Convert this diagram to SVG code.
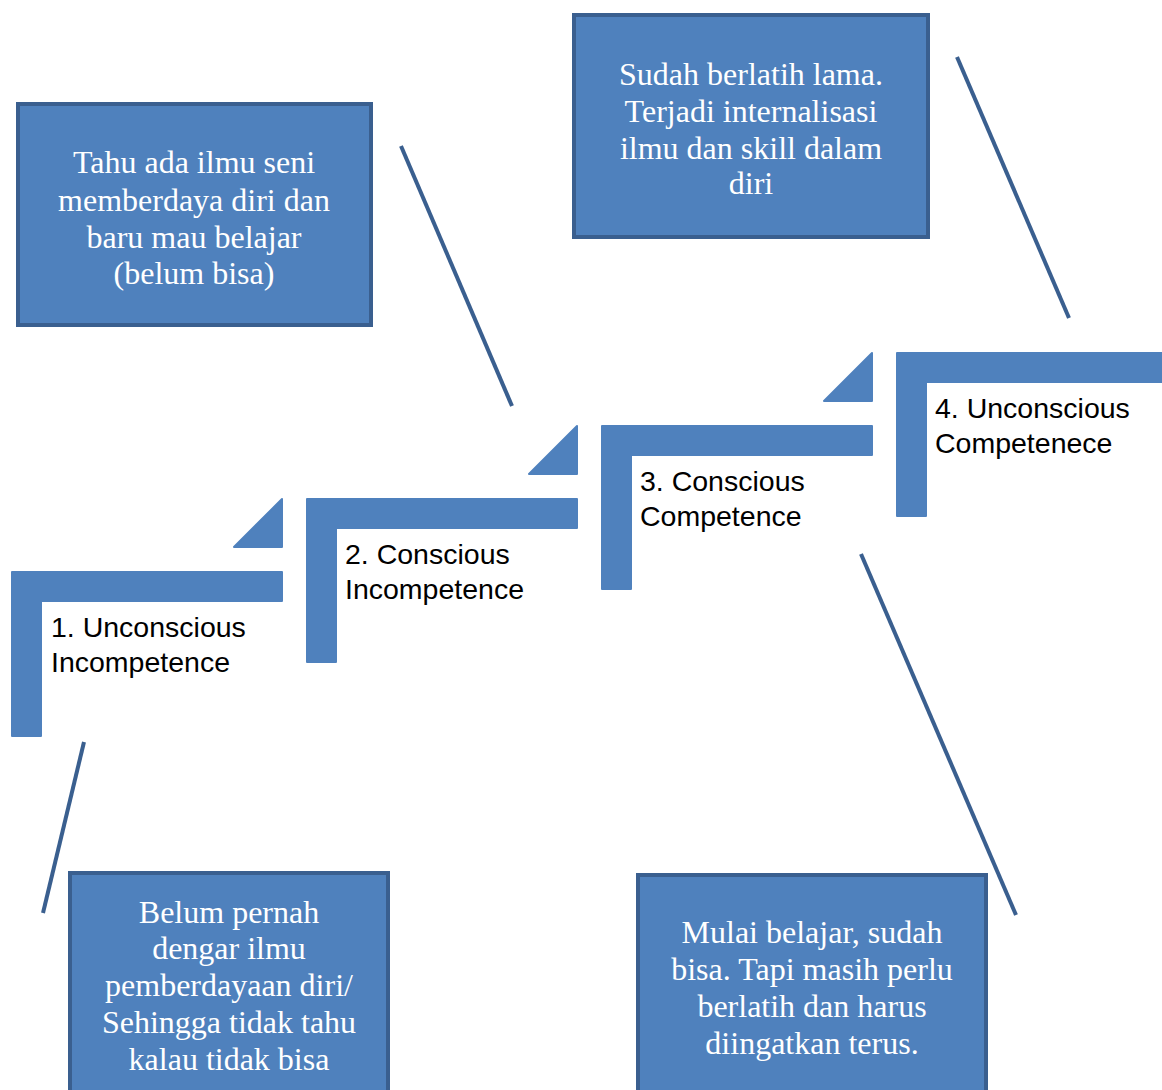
<svg xmlns="http://www.w3.org/2000/svg" width="1162" height="1090" viewBox="0 0 1162 1090">
<style>
.step{fill:#4f81bd;stroke:#4f81bd;stroke-width:2;stroke-linejoin:round}
.box{fill:#4f81bd;stroke:#3a5f8f;stroke-width:4}
.lbl{font-family:"Liberation Sans",Arial,sans-serif;font-size:28.5px;fill:#000}
.bt{font-family:"Liberation Serif","Times New Roman",serif;font-size:32px;fill:#fff;text-anchor:middle}
.conn{stroke:#3a5f8f;stroke-width:4;fill:none}
</style>
<rect width="1162" height="1090" fill="#fff"/>
<g id="connectors">
<line class="conn" x1="401" y1="146" x2="512" y2="406"/>
<line class="conn" x1="957" y1="57" x2="1069" y2="318"/>
<line class="conn" x1="861" y1="554" x2="1016" y2="915"/>
<line class="conn" x1="84" y1="742" x2="43" y2="913"/>
</g>
<g id="step1">
<path class="step" d="M12,572 H282 V601 H41 V736 H12 Z"/>
<path class="step" d="M282,499 V547 H234 Z"/>
<text class="lbl" x="51" y="637">1. Unconscious</text>
<text class="lbl" x="51" y="672">Incompetence</text>
</g>
<g id="step2">
<path class="step" d="M307,499 H577 V528 H336 V662 H307 Z"/>
<path class="step" d="M577,426 V474 H529 Z"/>
<text class="lbl" x="345" y="564">2. Conscious</text>
<text class="lbl" x="345" y="599">Incompetence</text>
</g>
<g id="step3">
<path class="step" d="M602,426 H872 V455 H631 V589 H602 Z"/>
<path class="step" d="M872,353 V401 H824 Z"/>
<text class="lbl" x="640" y="491">3. Conscious</text>
<text class="lbl" x="640" y="526">Competence</text>
</g>
<g id="step4">
<path class="step" d="M897,353 H1163 V382 H926 V516 H897 Z"/>
<text class="lbl" x="935" y="418">4. Unconscious</text>
<text class="lbl" x="935" y="453">Competenece</text>
</g>
<g id="box-top-left">
<rect class="box" x="18" y="104" width="353" height="221"/>
<text class="bt" x="194" y="173">Tahu ada ilmu seni</text>
<text class="bt" x="194" y="211">memberdaya diri dan</text>
<text class="bt" x="194" y="248">baru mau belajar</text>
<text class="bt" x="194" y="284">(belum bisa)</text>
</g>
<g id="box-top-right">
<rect class="box" x="574" y="15" width="354" height="222"/>
<text class="bt" x="751" y="85">Sudah berlatih lama.</text>
<text class="bt" x="751" y="122">Terjadi internalisasi</text>
<text class="bt" x="751" y="159">ilmu dan skill dalam</text>
<text class="bt" x="751" y="194">diri</text>
</g>
<g id="box-bottom-left">
<rect class="box" x="70" y="873" width="318" height="230"/>
<text class="bt" x="229" y="923">Belum pernah</text>
<text class="bt" x="229" y="959">dengar ilmu</text>
<text class="bt" x="229" y="996">pemberdayaan diri/</text>
<text class="bt" x="229" y="1033">Sehingga tidak tahu</text>
<text class="bt" x="229" y="1070">kalau tidak bisa</text>
</g>
<g id="box-bottom-right">
<rect class="box" x="638" y="875" width="348" height="230"/>
<text class="bt" x="812" y="943">Mulai belajar, sudah</text>
<text class="bt" x="812" y="980">bisa. Tapi masih perlu</text>
<text class="bt" x="812" y="1017">berlatih dan harus</text>
<text class="bt" x="812" y="1054">diingatkan terus.</text>
</g>
</svg>
